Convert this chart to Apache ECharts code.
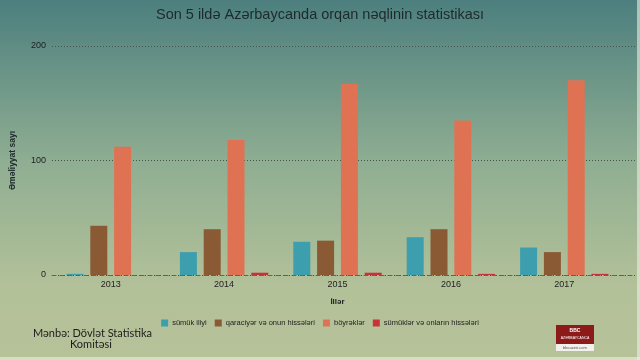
<!DOCTYPE html>
<html><head><meta charset="utf-8">
<script src="https://cdn.jsdelivr.net/npm/echarts@6/dist/echarts.min.js"></script>
<style>html,body{margin:0;padding:0;}#c{width:640px;height:360px;}</style>
</head><body><div id="c"></div>
<script>
const years = ['2013','2014','2015','2016','2017'];
const seriesNames = ['sümük iliyi','qaraciyər və onun hissələri','böyrəklər','sümüklər və onların hissələri'];
const boneMarrow = [1, 20, 29, 33, 24];
const liver = [43, 40, 30, 40, 20];
const kidneys = [112, 118, 167, 135, 170];
const bones = [0, 2, 2, 1, 1];
const yTicks = [0, 100, 200];
const colors = ['#3d9fae', '#8a5a34', '#e07254', '#c8323a'];

const chart = echarts.init(document.getElementById('c'));
const font = '"Liberation Sans", Arial, sans-serif';
const dataSets = [boneMarrow, liver, kidneys, bones];
chart.setOption({
  backgroundColor: {type:'linear', x:0, y:0, x2:0, y2:1, colorStops:[
    {offset:0, color:'#4c7f7e'}, {offset:0.45, color:'#8fae92'}, {offset:0.8, color:'#b3c199'}, {offset:1, color:'#b6c298'}]},
  textStyle: {fontFamily: font},
  title: {text:'Son 5 ildə Azərbaycanda orqan nəqlinin statistikası', left:'center', top:2,
    textStyle:{fontSize:14.5, fontWeight:'normal', color:'#1e2a2a', fontFamily:font}},
  legend: {data: seriesNames, left:'center', top:314, itemWidth:7, itemHeight:7, itemGap:8,
    icon:'rect', textStyle:{fontSize:7.5, color:'#222', fontFamily:font, padding:[0,0,0,-1]}},
  grid: [
    {left:44, right:4, top:46, bottom:85},
    {left:54, right:19, top:46, bottom:85}
  ],
  xAxis: [
    {gridIndex:0, type:'category', data:[''], axisLine:{show:true, lineStyle:{color:'#5a6660', type:[4,4], width:1}},
      axisTick:{show:false}, axisLabel:{show:false}},
    {gridIndex:1, type:'category', data:years, axisLine:{show:false}, axisTick:{show:false},
      axisLabel:{fontSize:9, color:'#222', margin:5, fontFamily:font},
      name:'İllər', nameLocation:'middle', nameGap:23,
      nameTextStyle:{fontSize:8, fontWeight:'bold', color:'#222', fontFamily:font}}
  ],
  yAxis: [
    {gridIndex:0, type:'value', min:yTicks[0], max:yTicks[yTicks.length-1], interval:100,
      axisLine:{show:false}, axisTick:{show:false},
      axisLabel:{fontSize:9, color:'#222', margin:6, fontFamily:font},
      splitLine:{show:true, lineStyle:{color:'#44544c', type:[1,2], width:1}},
      name:'Əməliyyat sayı', nameLocation:'middle', nameGap:35, nameRotate:90,
      nameTextStyle:{fontSize:8.5, fontWeight:'bold', color:'#1e2a2a', fontFamily:font}},
    {gridIndex:1, type:'value', min:yTicks[0], max:yTicks[yTicks.length-1], interval:100, show:false}
  ],
  series: seriesNames.map((n,i)=>({
    name:n, type:'bar', xAxisIndex:1, yAxisIndex:1, data:dataSets[i],
    barWidth:17, barGap:'40%', itemStyle:{color:colors[i]}, silent:true
  })),
  graphic: [
    {type:'text', left:33, top:328, style:{text:'Mənbə: Dövlət Statistika', fontSize:11, fontFamily:'Lato, sans-serif', fill:'#1c1c1c'}},
    {type:'text', left:70, top:339, style:{text:'Komitəsi', fontSize:11, fontFamily:'Lato, sans-serif', fill:'#1c1c1c'}},
    {type:'rect', shape:{x:556, y:325, width:38, height:26}, style:{fill:'#f2f0ea'}},
    {type:'rect', shape:{x:556, y:325, width:38, height:19}, style:{fill:'#8c1a18'}},
    {type:'text', x:575, y:331, style:{text:'BBC', fontSize:5, fontWeight:'bold', fill:'#fff', align:'center', verticalAlign:'middle', fontFamily:font}},
    {type:'text', x:575, y:338, style:{text:'AZƏRBAYCANCA', fontSize:3.5, fill:'#fff', align:'center', verticalAlign:'middle', fontFamily:font}},
    {type:'text', x:575, y:348, style:{text:'bbcazeri.com', fontSize:4, fill:'#555', align:'center', verticalAlign:'middle', fontFamily:font}},
    {type:'rect', shape:{x:637, y:0, width:3, height:360}, style:{fill:'rgba(235,240,225,0.6)'}},
    {type:'rect', shape:{x:0, y:357, width:640, height:3}, style:{fill:'rgba(235,240,225,0.6)'}}
  ]
});
</script></body></html>
